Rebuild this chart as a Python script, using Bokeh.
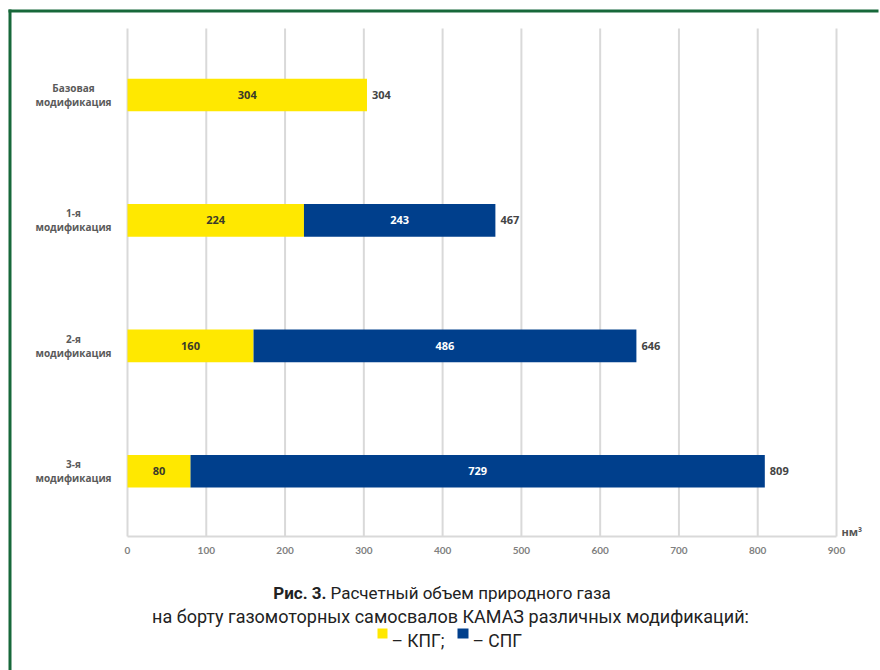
from bokeh.plotting import figure
from bokeh.models import ColumnDataSource, LabelSet, Label, BoxAnnotation
from bokeh.core.properties import value
from bokeh.embed import file_html
from bokeh.resources import INLINE

# --- data -------------------------------------------------------------
categories = ["Базовая\nмодификация", "1-я\nмодификация",
              "2-я\nмодификация", "3-я\nмодификация"]
cng = [304, 224, 160, 80]      # КПГ, нм³
lng = [0, 243, 486, 729]       # СПГ, нм³
totals = [304, 467, 646, 809]
x_ticks = [0, 100, 200, 300, 400, 500, 600, 700, 800, 900]
series_names = ["КПГ", "СПГ"]
series_colors = ["#ffe800", "#003f8c"]
unit_label = "нм³"

FONT = "Open Sans"
TICK_FONT = "Lato"
CAP_FONT = "Roboto"
GREEN = "#17683a"
GRID = "#d9d9d9"

# --- layout: the frame covers the whole canvas, the value area sits inside
W, H = 880, 670
A_LEFT, A_RIGHT, A_TOP, A_BOTTOM = 127, 836, 28, 536   # value area, px
X_MIN, X_MAX = 0, 900
Y_MIN, Y_MAX = -0.52, 3.53

x_per_px = (X_MAX - X_MIN) / (A_RIGHT - A_LEFT)
y_per_px = (Y_MAX - Y_MIN) / (A_BOTTOM - A_TOP)
x_range = (X_MIN - A_LEFT * x_per_px, X_MAX + (W - A_RIGHT) * x_per_px)
y_range = (Y_MIN - (H - A_BOTTOM) * y_per_px, Y_MAX + A_TOP * y_per_px)


def up(py):
    """page y (from top) -> screen y (from bottom)"""
    return H - py


# categories drawn from top to bottom
ypos = [len(categories) - 1 - i for i in range(len(categories))]
cat_lines = [c.split("\n") for c in categories]

src = ColumnDataSource(dict(
    y=ypos,
    cat1=[c[0] for c in cat_lines],
    cat2=[c[1] for c in cat_lines],
    cng=cng,
    cng_mid=[c / 2 for c in cng],
    lng_left=cng,
    lng_right=[c + l for c, l in zip(cng, lng)],
    lng_mid=[c + l / 2 for c, l in zip(cng, lng)],
    total=totals,
    cng_txt=[str(v) for v in cng],
    lng_txt=[str(v) if v else "" for v in lng],
    tot_txt=[str(v) for v in totals],
    zero=[0] * len(cng),
))

tick_src = ColumnDataSource(dict(
    x=x_ticks,
    lo=[Y_MIN] * len(x_ticks),
    hi=[Y_MAX] * len(x_ticks),
    lab_y=[Y_MIN - 10 * y_per_px] * len(x_ticks),
    txt=[str(t) for t in x_ticks],
))

p = figure(width=W, height=H, x_range=x_range, y_range=y_range,
           output_backend="svg", toolbar_location=None,
           min_border=0, background_fill_color="white",
           border_fill_color="white")
p.outline_line_color = None
p.axis.visible = False
p.grid.visible = False

# vertical grid and the value axis line
p.segment(x0="x", y0="lo", x1="x", y1="hi", source=tick_src,
          line_color=GRID, line_width=2)
p.segment(x0=[X_MIN], y0=[Y_MIN], x1=[X_MAX], y1=[Y_MIN],
          line_color=GRID, line_width=2)
p.text(x="x", y="lab_y", text="txt", source=tick_src,
       text_align="center", text_baseline="top",
       text_font=value(TICK_FONT), text_font_style="bold",
       text_font_size="10px", text_color="#808080")

# stacked horizontal bars
p.hbar(y="y", left="zero", right="cng", height=0.26, source=src,
       fill_color=series_colors[0], line_color=None)
p.hbar(y="y", left="lng_left", right="lng_right", height=0.26, source=src,
       fill_color=series_colors[1], line_color=None)

# value labels
lbl = dict(text_font=value(FONT), text_font_style="bold",
           text_font_size="11px", text_baseline="middle")
p.add_layout(LabelSet(x="cng_mid", y="y", text="cng_txt", source=src,
                      text_align="center", text_color="#3a3a2a", **lbl))
p.add_layout(LabelSet(x="lng_mid", y="y", text="lng_txt", source=src,
                      text_align="center", text_color="white", **lbl))
p.add_layout(LabelSet(x="total", y="y", text="tot_txt", source=src,
                      x_offset=5, text_align="left", text_color="#444444",
                      **lbl))

# two-line category labels on the left, each line centred
cat = dict(x=73, x_units="screen", y="y", source=src, text_align="center",
           text_baseline="middle", text_font=value(FONT),
           text_font_style="bold", text_font_size="10px",
           text_color="#5a5a5a")
p.add_layout(LabelSet(text="cat1", y_offset=7, **cat))
p.add_layout(LabelSet(text="cat2", y_offset=-7, **cat))

p.add_layout(Label(x=841, y=up(538), x_units="screen", y_units="screen",
                   text=unit_label, text_font=FONT, text_font_style="bold",
                   text_font_size="11px", text_color="#555555"))

# green corner rule of the panel
box = dict(left_units="canvas", right_units="canvas", top_units="canvas",
           bottom_units="canvas", fill_alpha=1, line_color=None)
p.add_layout(BoxAnnotation(left=8, right=W - 2, top=9, bottom=12,
                           fill_color=GREEN, **box))
p.add_layout(BoxAnnotation(left=8, right=11, top=9, bottom=H,
                           fill_color=GREEN, **box))

# caption
cap = dict(x_units="screen", y_units="screen", text_font=CAP_FONT,
           text_color="#222222", text_baseline="alphabetic")
p.add_layout(Label(x=326, y=up(592), text="Рис. 3.", text_align="right",
                   text_font_style="bold", text_font_size="17px", **cap))
p.add_layout(Label(x=330, y=up(592),
                   text="Расчетный объем природного газа",
                   text_align="left", text_font_size="17px", **cap))
p.add_layout(Label(x=450, y=up(616),
                   text="на борту газомоторных самосвалов КАМАЗ различных модификаций:",
                   text_align="center", text_font_size="18px", **cap))

# legend line of the caption
p.add_layout(BoxAnnotation(left=377, right=387, top=628, bottom=638,
                           fill_color=series_colors[0], **box))
p.add_layout(Label(x=391, y=up(640), text="– " + series_names[0] + ";",
                   text_align="left", text_font_size="17.5px", **cap))
p.add_layout(BoxAnnotation(left=457, right=468, top=628, bottom=638,
                           fill_color=series_colors[1], **box))
p.add_layout(Label(x=472, y=up(640), text="– " + series_names[1],
                   text_align="left", text_font_size="17.5px", **cap))

open("out.html", "w").write(file_html(p, INLINE))
